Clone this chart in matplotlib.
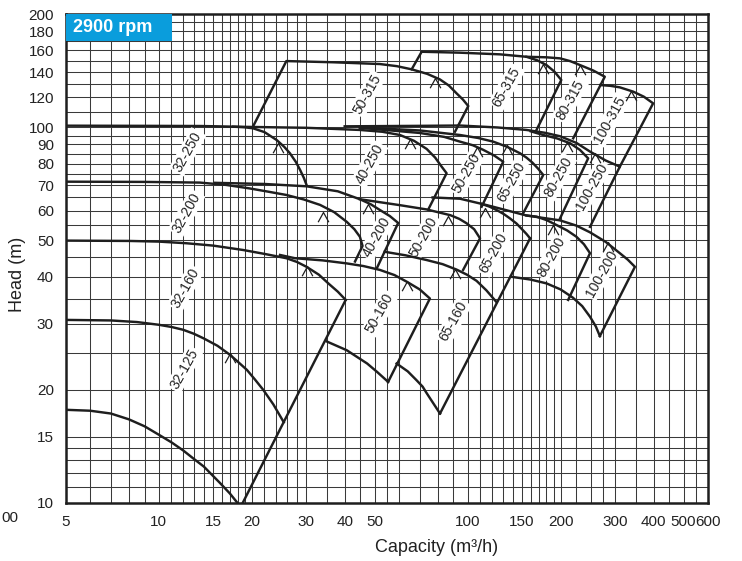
import matplotlib
matplotlib.use("Agg")
import matplotlib.pyplot as plt
from matplotlib.path import Path
from matplotlib.patches import Rectangle
from matplotlib.ticker import FixedLocator, FixedFormatter, NullFormatter

plt.rcParams['font.family'] = ['Liberation Sans', 'DejaVu Sans']

# ---------------- axis ticks / grid ----------------
x_ticks = [5, 10, 15, 20, 30, 40, 50, 100, 150, 200, 300, 400, 500, 600]
y_ticks = [10, 15, 20, 30, 40, 50, 60, 70, 80, 90, 100, 120, 140, 160, 180, 200]
x_grid = (list(range(5, 21)) + [22, 24, 26, 28, 30, 35, 40, 45, 50, 55, 60]
          + list(range(70, 201, 10)) + [225, 250, 275, 300, 350, 400, 450, 500, 550, 600])
y_grid = [10, 11, 12, 13, 14, 15] + list(range(20, 101, 5)) + list(range(110, 201, 10))

# ---------------- curves (Q m3/h, H m) ----------------
q_32_125_min = [5, 6, 7, 8, 9, 10, 11, 12, 13, 14, 15, 15.8, 17, 18]
h_32_125_min = [17.7, 17.6, 17.3, 16.7, 16.0, 15.2, 14.5, 13.8, 13.1, 12.5, 11.8, 11.3, 10.6, 10.0]

q_32_125_max = [5, 7, 8.5, 10, 11, 12, 13, 14, 15.5, 17, 18, 19.3, 20.5, 21.8, 23.5, 25.4]
h_32_125_max = [30.7, 30.6, 30.3, 29.8, 29.4, 28.9, 28.2, 27.4, 26.2, 24.8, 23.8, 22.6, 21.3, 20.0, 18.3, 16.4]

q_32_side = [18.7, 40.3]
h_32_side = [10.0, 34.7]

q_32_160_max = [5, 8, 10, 12.3, 15, 18.8, 22, 25.9, 28, 30.1, 33, 35.4, 38, 40.3]
h_32_160_max = [49.9, 49.8, 49.6, 49.1, 48.4, 47.1, 46.0, 44.8, 43.8, 42.5, 40.5, 38.4, 36.5, 34.7]

q_32_200_max = [5, 9, 13.6, 16.5, 19.7, 22.5, 25.9, 29.5, 33.3, 37, 40.6, 43, 44.8, 45.7, 43.2]
h_32_200_max = [71.6, 71.5, 71.2, 70.2, 68.7, 67.4, 66.0, 64.2, 62.1, 59.4, 56.0, 53.5, 51.1, 48.3, 43.9]

q_32_250_max = [5, 9, 13.6, 15.5, 17.4, 19, 20.2, 22, 24.1, 25.5, 26.6, 27.8, 28.7, 29.5, 30.1]
h_32_250_max = [100.9, 100.8, 100.7, 100.5, 100.3, 99.9, 99.3, 97.0, 92.4, 88.6, 85.2, 80.8, 76.9, 73.3, 70.2]

q_40_200_max = [15.2, 22, 30.1, 38, 44.8, 48.5, 52, 56, 59.6, 50.8]
h_40_200_max = [71.1, 70.6, 69.6, 67.5, 64.3, 62.4, 60.2, 58.0, 55.6, 42.1]

q_40_250_max = [17.4, 30, 44.8, 53, 60.4, 67, 73.7, 78.5, 82.4, 85.5, 74.6]
h_40_250_max = [100.3, 99.6, 98.3, 97.2, 95.3, 92.0, 87.5, 83.0, 78.5, 75.4, 60.4]

q_50_160_max = [24.7, 27.6, 34, 40.6, 46, 52.0, 58, 63.5, 70, 75.5, 55.3]
h_50_160_max = [45.7, 44.8, 44.2, 43.4, 42.7, 41.7, 40.4, 38.8, 37.0, 35.0, 21.0]

q_50_160_min = [35.0, 40.6, 47.3, 51, 55.3]
h_50_160_min = [26.9, 25.5, 23.5, 22.3, 21.0]

q_50_200_max = [44.8, 60.4, 73.7, 88, 94, 99.2, 105, 109.7, 96.7]
h_50_200_max = [64.3, 62.0, 60.4, 58.3, 57.0, 55.5, 53.5, 50.6, 41.7]

q_50_250_max = [44.8, 70, 84, 94.5, 104, 112.4, 122, 130.4, 111]
h_50_250_max = [99.6, 96.5, 94.2, 91.5, 89.5, 87.0, 84.0, 80.9, 61.4]

q_50_315_max = [20.1, 25.9, 36.7, 52, 59, 65.9, 74, 81.3, 87, 92.1, 96.5, 100.5, 91]
h_50_315_max = [99.6, 149.9, 148.8, 147.2, 145.3, 142.5, 138.6, 134, 129, 123, 118.5, 113.8, 97.2]

q_65_160_max = [53.9, 63, 73.7, 83, 92, 99.5, 106.9, 115, 123.8]
h_65_160_max = [46.6, 45.6, 44.3, 43.2, 41.8, 40.5, 39.0, 36.8, 34.3]

q_65_160_min = [58.9, 64, 68.4, 71.5, 73.7, 77.5, 81.4]
h_65_160_min = [23.5, 22.4, 21.2, 20.4, 19.6, 18.4, 17.3]

q_65_side = [159.3, 81.4]
h_65_side = [50.6, 17.3]

q_65_200_max = [111, 118, 125, 131, 137, 144, 150, 155, 159.3]
h_65_200_max = [62.5, 61.4, 60.0, 58.7, 57.2, 55.4, 53.5, 52.0, 50.6]

q_65_250_max = [44.8, 70, 94.5, 108, 121, 134, 147.8, 155, 162, 169, 175.7, 151.3]
h_65_250_max = [99.8, 98, 95.3, 93.6, 91.5, 88.7, 85.2, 83.0, 80.5, 77.6, 74.6, 59.0]

q_65_315_max = [65.9, 71, 94.4, 127.3, 155, 168, 180, 191, 201, 167]
h_65_315_max = [142.5, 158.7, 157.8, 156.2, 153.9, 150.6, 146.3, 140.5, 133.5, 98.2]

q_80_200_max = [155, 167, 180, 194, 210, 225, 238, 249, 211.6]
h_80_200_max = [58.2, 57.8, 56.6, 54.9, 53.1, 51.1, 48.8, 46.2, 34.7]

q_80_200_min = [138, 160, 180, 200, 219, 235, 249, 260, 268]
h_80_200_min = [40.0, 39.3, 38.4, 37.0, 35.2, 33.4, 31.3, 29.5, 27.8]

q_80_250_max = [160, 175.7, 195, 214.6, 231, 245.6, 199.2]
h_80_250_max = [97.5, 95.3, 93.3, 90.6, 87.0, 82.6, 57.2]

q_80_315_max = [155, 180, 199.2, 215, 231, 255, 278, 219.7]
h_80_315_max = [153.9, 153.4, 152.4, 149.8, 146.3, 141.5, 136.2, 93.4]

q_100_200_max = [77, 94.5, 111, 121, 155, 199, 225, 249, 280, 311, 330, 348, 268]
h_100_200_max = [65.0, 64.5, 62.5, 61.4, 58.2, 56.5, 54.7, 52.5, 49.5, 46.2, 44.4, 42.5, 27.8]

q_100_250_max = [40, 70, 94.5, 125, 155, 178, 199, 225, 249, 280, 311, 249]
h_100_250_max = [100.5, 100.8, 101.0, 99.8, 98.3, 96.6, 94.6, 90.8, 86.1, 81.5, 78.5, 54.3]

q_100_315_max = [269, 290, 311, 343.5, 372, 398.6, 311]
h_100_315_max = [129.4, 128.8, 127.6, 124.3, 120.5, 115.7, 78.5]

curves = [
    (q_32_125_min, h_32_125_min), (q_32_125_max, h_32_125_max), (q_32_side, h_32_side),
    (q_32_160_max, h_32_160_max), (q_32_200_max, h_32_200_max), (q_32_250_max, h_32_250_max),
    (q_40_200_max, h_40_200_max), (q_40_250_max, h_40_250_max),
    (q_50_160_max, h_50_160_max), (q_50_160_min, h_50_160_min), (q_50_200_max, h_50_200_max),
    (q_50_250_max, h_50_250_max), (q_50_315_max, h_50_315_max),
    (q_65_160_max, h_65_160_max), (q_65_160_min, h_65_160_min), (q_65_side, h_65_side),
    (q_65_200_max, h_65_200_max), (q_65_250_max, h_65_250_max), (q_65_315_max, h_65_315_max),
    (q_80_200_max, h_80_200_max), (q_80_200_min, h_80_200_min), (q_80_250_max, h_80_250_max),
    (q_80_315_max, h_80_315_max),
    (q_100_200_max, h_100_200_max), (q_100_250_max, h_100_250_max), (q_100_315_max, h_100_315_max),
]

# best-efficiency arrow marks
arrow_q = [17, 30.1, 34, 24.3, 47.7, 65, 63.5, 86.5, 107, 78.4, 91, 113.8, 133.7, 175.7, 189.2, 209, 231, 285, 258, 339]
arrow_h = [25.0, 42.7, 59.5, 91, 62.5, 93, 39.0, 58.0, 88.5, 135, 41.9, 61.0, 89.5, 147.5, 55.0, 91.5, 146.3, 49.6, 85.5, 124.5]

# pump size labels
labels = ["32-125", "32-160", "32-200", "32-250", "40-200", "40-250", "50-160", "50-200", "50-250", "50-315",
          "65-160", "65-200", "65-250", "65-315", "80-200", "80-250", "80-315", "100-200", "100-250", "100-315"]
label_q = [12.1, 12.2, 12.3, 12.4, 50.8, 48.1, 52, 71.8, 99.2, 47.4,
           89.8, 121, 138.8, 133.7, 187, 196.5, 214.6, 271.4, 252, 289]
label_h = [22.7, 37.3, 59.1, 86.0, 51.1, 79.7, 32.0, 51.1, 75.4, 122.6,
           30.4, 46.2, 71.6, 128.1, 45.2, 73.8, 118, 40.8, 69.4, 104.5]

# ---------------- figure ----------------
W, H = 742, 561
fig = plt.figure(figsize=(W / 100, H / 100), dpi=100)
x0, x1, y0, y1 = 65.7, 708, 14, 503
ax = fig.add_axes([x0 / W, 1 - y1 / H, (x1 - x0) / W, (y1 - y0) / H])
ax.set_xscale('log')
ax.set_yscale('log')
ax.set_xlim(5, 600)
ax.set_ylim(10, 200)

ax.xaxis.set_major_locator(FixedLocator(x_ticks))
ax.xaxis.set_major_formatter(FixedFormatter([str(t) for t in x_ticks]))
ax.xaxis.set_minor_locator(FixedLocator(x_grid))
ax.xaxis.set_minor_formatter(NullFormatter())
ax.yaxis.set_major_locator(FixedLocator(y_ticks))
ax.yaxis.set_major_formatter(FixedFormatter([str(t) for t in y_ticks]))
ax.yaxis.set_minor_locator(FixedLocator(y_grid))
ax.yaxis.set_minor_formatter(NullFormatter())
ax.tick_params(which='both', length=0)
ax.tick_params(axis='both', which='major', labelsize=11, pad=8.5, colors='#222222')
ax.grid(which='both', color='#3a3a3a', lw=0.75)
ax.set_axisbelow(True)
for s in ax.spines.values():
    s.set_linewidth(1.8)
    s.set_color('#1e1e1e')

for q, h in curves:
    ax.plot(q, h, color='#1e1e1e', lw=1.75, zorder=4, solid_joinstyle='round')

caret = Path([(-0.55, -1.0), (0, 0), (0.55, -1.0)], [Path.MOVETO, Path.LINETO, Path.LINETO])
ax.plot(arrow_q, arrow_h, ls='none', marker=caret, ms=14, mfc='none', mec='#1e1e1e', mew=0.9, zorder=5)

for lab, q, h in zip(labels, label_q, label_h):
    ax.text(q, h, lab, rotation=61, rotation_mode='anchor', ha='center', va='center',
            fontsize=10, color='#222222', zorder=3,
            bbox=dict(boxstyle='square,pad=0.12', fc='white', ec='none'))

# rpm badge
bw = (171.7 - x0) / (x1 - x0)
bh = (40.7 - y0) / (y1 - y0)
ax.add_patch(Rectangle((0, 1 - bh), bw, bh, transform=ax.transAxes, fc='#0a9ddc', ec='none', zorder=6))
ax.text((72.7 - x0) / (x1 - x0), 1 - (27.5 - y0) / (y1 - y0), '2900 rpm', transform=ax.transAxes,
        ha='left', va='center', fontsize=13, fontweight='bold', color='white', zorder=7)

fig.text(17.5 / W, 1 - 274 / H, 'Head (m)', rotation=90, ha='center', va='center', fontsize=13, color='#222222')
fig.text(436.7 / W, 1 - 548 / H, 'Capacity (m³/h)', ha='center', va='center', fontsize=13, color='#222222')
fig.text(1.5 / W, 1 - 518 / H, '00', ha='left', va='center', fontsize=11, color='#222222')

fig.savefig('out.png', dpi=100)
